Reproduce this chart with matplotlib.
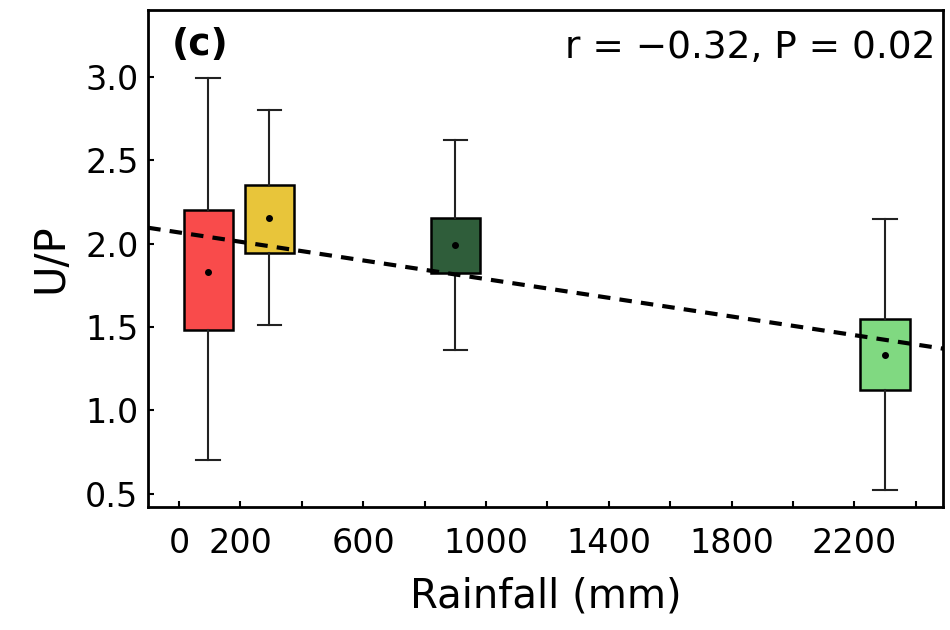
import numpy as np
import matplotlib
matplotlib.use('Agg')
import matplotlib.pyplot as plt

# Datos
lluvia = [95, 295, 900, 2300]           # posicion de cada caja (mm)
bigote_inf = [0.70, 1.51, 1.365, 0.52]
q1 = [1.48, 1.945, 1.825, 1.12]
q3 = [2.20, 2.35, 2.155, 1.55]
bigote_sup = [2.99, 2.80, 2.62, 2.15]
medias = [1.83, 2.155, 1.99, 1.33]
colores = ["#f94b4b", "#e8c53a", "#2f5d3a", "#80d981"]

reg_x = [-100, 2490]
reg_y = [2.095, 1.37]

ticks_x = list(range(0, 2401, 200))
etiquetas_x = ["0", "200", "", "600", "", "1000", "", "1400", "", "1800", "", "2200", ""]

fig = plt.figure(figsize=(9.5, 6.3), dpi=100)
ax = fig.add_axes([0.156, 0.195, 0.837, 0.789])

stats = []
for i in range(len(lluvia)):
    stats.append({
        "whislo": bigote_inf[i], "q1": q1[i], "med": (q1[i] + q3[i]) / 2,
        "q3": q3[i], "whishi": bigote_sup[i], "mean": medias[i], "fliers": []
    })

bp = ax.bxp(stats, positions=lluvia, widths=160, patch_artist=True, showmeans=True,
            showfliers=False, manage_ticks=False,
            boxprops=dict(edgecolor="black", linewidth=1.8),
            whiskerprops=dict(color="#222222", linewidth=1.5),
            capprops=dict(color="#222222", linewidth=1.5),
            medianprops=dict(linewidth=0),
            meanprops=dict(marker="o", markerfacecolor="black", markeredgecolor="black",
                           markersize=4))
for caja, c in zip(bp["boxes"], colores):
    caja.set_facecolor(c)
for cap in bp["caps"]:
    x0, x1 = cap.get_xdata()
    m = (x0 + x1) / 2
    cap.set_xdata([m - 38, m + 38])

ax.plot(reg_x, reg_y, linestyle=(0, (3, 2.2)), color="black", linewidth=3, zorder=5)

ax.set_xlim(-100, 2490)
ax.set_ylim(0.42, 3.40)
ax.set_xticks(ticks_x)
ax.set_xticklabels(etiquetas_x)
ax.set_yticks([0.5, 1.0, 1.5, 2.0, 2.5, 3.0])
ax.set_yticklabels(["0.5", "1.0", "1.5", "2.0", "2.5", "3.0"])
ax.tick_params(direction="in", length=4, width=1.5, labelsize=24)
ax.tick_params(axis="x", pad=14)
ax.tick_params(axis="y", pad=7)
for s in ax.spines.values():
    s.set_linewidth(2)

ax.set_xlabel("Rainfall (mm)", fontsize=29, labelpad=12)
ax.set_ylabel("U/P", fontsize=30, labelpad=10)

ax.text(0.03, 0.965, "(c)", transform=ax.transAxes, fontsize=27, fontweight="bold",
        va="top", ha="left")
ax.text(0.99, 0.96, "r = \u22120.32, P = 0.02", transform=ax.transAxes, fontsize=27,
        va="top", ha="right")

plt.savefig("out.png", dpi=100)
plt.close()
